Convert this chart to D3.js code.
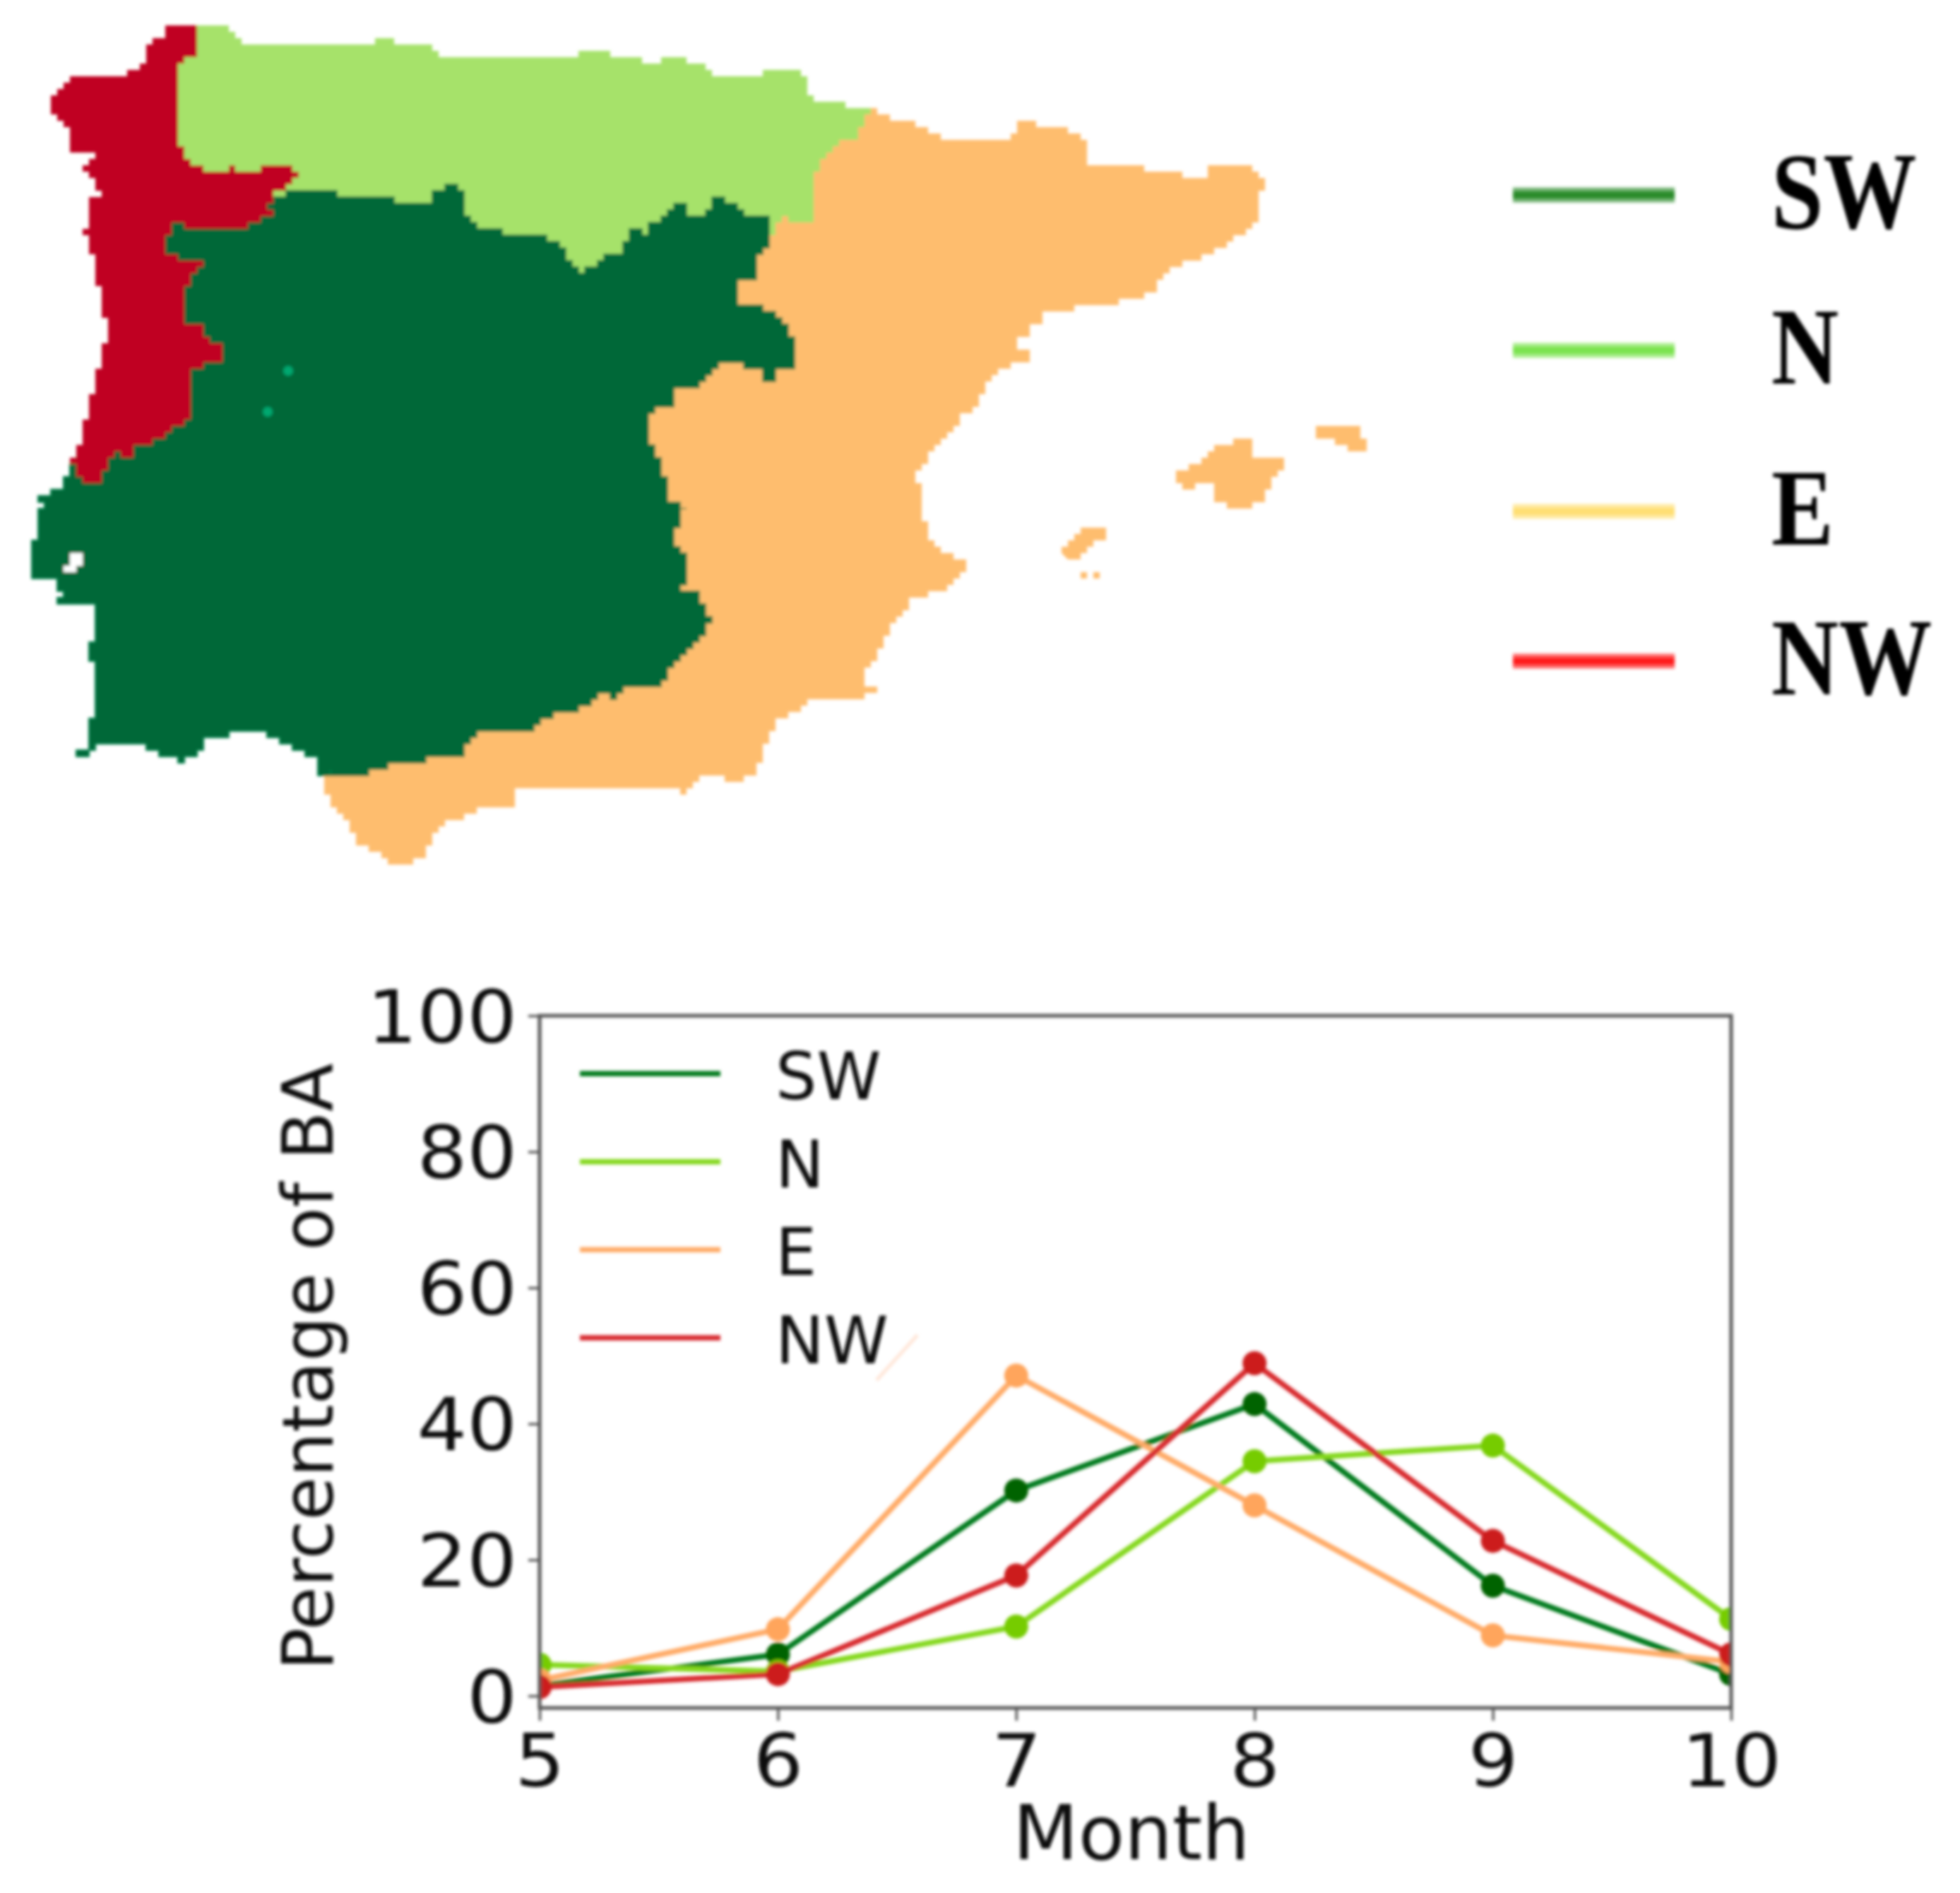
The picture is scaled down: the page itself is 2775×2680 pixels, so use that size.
<!DOCTYPE html>
<html>
<head>
<meta charset="utf-8">
<script src="https://cdn.jsdelivr.net/npm/d3@7"></script>
<style>
    html, body { margin: 0; padding: 0; background: #fff; }
    svg { display: block; }
</style>
</head>
<body>
<svg id="visualization" width="2775" height="2680"></svg>
<script>
// Chart data
let months = [5, 6, 7, 8, 9, 10];
let regions = ["SW", "N", "E", "NW"];
let valuesSW = [1.5, 6.1, 30.2, 42.9, 16.2, 3.2];
let valuesN = [4.6, 3.6, 10.2, 34.5, 36.8, 11.3];
let valuesE = [2.3, 9.8, 47.1, 28.0, 8.9, 5.0];
let valuesNW = [1.3, 3.2, 17.7, 48.9, 22.8, 6.1];
let yTicks = [0, 20, 40, 60, 80, 100];

// Map outlines in picture pixels.
// Regions overlap underneath each other, the drawing order hides that.
let outlineE = [[1237,157],[1265,173],[1293,171],[1328,196],[1433,196],[1440,171],[1496,180],[1535,198],[1542,230],[1616,230],[1622,242],[1665,240],[1682,255],[1707,255],[1714,234],[1759,230],[1777,245],[1794,253],[1794,270],[1777,272],[1784,318],[1756,337],[1721,360],[1672,376],[1644,395],[1630,418],[1580,429],[1517,437],[1479,448],[1461,471],[1440,483],[1440,494],[1461,502],[1458,515],[1426,519],[1405,536],[1388,567],[1363,594],[1328,632],[1317,650],[1300,677],[1302,723],[1315,763],[1337,787],[1365,790],[1365,810],[1337,837],[1293,847],[1267,883],[1253,910],[1240,937],[1225,953],[1227,972],[1250,973],[1245,983],[1207,988],[1150,988],[1143,1003],[1107,1020],[1090,1040],[1080,1080],[1057,1107],[1035,1112],[1030,1098],[996,1097],[975,1122],[947,1116],[733,1113],[726,1139],[673,1149],[628,1168],[596,1219],[561,1223],[512,1196],[488,1156],[459,1122],[463,1097],[600,1000],[880,700],[880,500],[1000,400],[1100,300],[1170,190]];
let outlineN = [[275,37],[322,37],[338,60],[523,60],[539,53],[555,60],[599,62],[619,78],[676,78],[682,85],[784,85],[848,69],[867,80],[906,87],[957,83],[995,92],[1005,104],[1068,104],[1103,100],[1142,106],[1145,138],[1195,150],[1237,157],[1226,169],[1219,192],[1181,207],[1163,234],[1149,261],[1156,314],[1110,309],[1086,350],[823,430],[600,400],[400,400],[300,300],[240,230],[240,90],[270,60]];
let outlineSW = [[415,268],[478,275],[536,281],[603,290],[612,272],[638,259],[660,286],[657,304],[676,321],[721,333],[788,339],[804,370],[823,388],[835,375],[880,353],[893,321],[906,335],[921,318],[942,299],[963,288],[974,303],[991,303],[1012,280],[1044,288],[1051,309],[1086,310],[1089,318],[1093,349],[1068,364],[1068,395],[1047,402],[1044,429],[1075,433],[1110,456],[1124,483],[1128,519],[1103,523],[1100,544],[1082,544],[1079,523],[1054,515],[1023,515],[1012,529],[995,532],[995,544],[960,550],[953,576],[925,582],[914,605],[928,651],[940,672],[943,709],[968,722],[954,764],[975,810],[965,836],[982,840],[1007,882],[989,911],[954,937],[936,975],[898,972],[870,987],[856,981],[814,1010],[768,1015],[754,1038],[701,1031],[666,1046],[656,1069],[596,1078],[533,1088],[512,1101],[470,1092],[459,1101],[449,1071],[421,1059],[382,1038],[337,1038],[298,1046],[277,1069],[260,1078],[239,1067],[210,1057],[144,1055],[116,1071],[105,1071],[123,1052],[126,1017],[137,1008],[137,932],[123,930],[130,913],[137,907],[137,857],[77,857],[88,840],[81,823],[42,815],[42,802],[53,739],[60,709],[56,701],[84,693],[88,680],[102,655],[180,600],[200,400],[215,345],[240,300],[300,290],[370,285]];
let outlineNW = [[237,37],[284,37],[281,62],[274,85],[256,89],[255,134],[252,179],[258,228],[297,243],[325,237],[363,246],[370,230],[405,230],[420,254],[408,268],[389,277],[376,290],[386,308],[357,312],[344,328],[300,324],[252,317],[230,350],[249,368],[281,364],[284,379],[274,395],[258,417],[261,455],[287,467],[290,480],[319,487],[312,509],[274,529],[274,598],[255,607],[223,623],[191,638],[185,652],[172,638],[156,650],[143,688],[124,688],[108,656],[102,647],[118,616],[124,571],[137,522],[150,482],[153,455],[143,424],[134,366],[121,321],[124,288],[140,268],[131,250],[121,232],[137,214],[102,214],[102,187],[89,170],[67,158],[70,138],[86,120],[105,105],[172,105],[201,91],[207,60],[236,51]];
let mallorca = [[1657,675],[1673,663],[1707,643],[1727,630],[1753,620],[1773,628],[1772,647],[1787,652],[1817,647],[1817,670],[1800,683],[1787,707],[1763,722],[1723,710],[1717,680],[1697,683],[1687,697],[1677,683]];
let menorca = [[1860,605],[1917,603],[1937,625],[1935,640],[1913,638],[1893,623],[1867,623]];
let ibiza = [[1503,787],[1505,773],[1523,753],[1540,743],[1567,750],[1567,763],[1543,777],[1533,790]];
let formentera = [[1530,807],[1542,803],[1543,823],[1530,823]];
let formenteraEast = [[1552,810],[1562,812],[1560,823],[1550,822]];
let tagusEstuary = [[102,779],[114,779],[114,802],[98,821],[94,800]];
let specks = [[408,525],[379,583]];
let legendSmear = [[1241,1954],[1299,1890]];

// Colours
let mapColors = { SW: "#006837", N: "#a6e26b", E: "#febd6e", NW: "#c00024" };
let keyColors = { SW: "#2c8c2c", N: "#7be34f", E: "#ffdf73", NW: "#ff1a1a" };
let lineColors = { SW: "#007a1a", N: "#84d81f", E: "#ffab68", NW: "#d8292e" };
let markerColors = { SW: "#006400", N: "#76cc00", E: "#ffa55c", NW: "#cc1a1f" };

// Layout variables
let plot = { left: 764, right: 2451, top: 1438, bottom: 2418 };
let axisColor = "#555555";
let tickStretch = 1.08;
let cell = 9;   // size of a map raster cell
let svg = d3.select("#visualization");

let defs = svg.append("defs");
defs.append("filter").attr("id", "soft")
    .append("feGaussianBlur").attr("stdDeviation", 2);
let clip = defs.append("clipPath").attr("id", "plot-clip");

// Map
let mapX = d3.scaleIdentity();
let mapY = d3.scaleIdentity();
let stepLine = d3.line().x(d => mapX(d[0])).y(d => mapY(d[1])).curve(d3.curveStepAfter);

// Break the outline into raster sized pieces so it comes out blocky like the source grid
function pixelate(outline) {
    let out = [];
    outline.forEach((p, i) => {
        let q = outline[(i + 1) % outline.length];
        let n = Math.max(1, Math.round(Math.hypot(q[0] - p[0], q[1] - p[1]) / cell));
        for (let k = 0; k < n; k++) {
            out.push([
                Math.round((p[0] + (q[0] - p[0]) * k / n) / cell) * cell,
                Math.round((p[1] + (q[1] - p[1]) * k / n) / cell) * cell
            ]);
        }
    });
    return out;
}

let mapGroup = svg.append("g").attr("class", "map").attr("filter", "url(#soft)");
let mapShapes = [
    [outlineE, mapColors.E], [mallorca, mapColors.E], [menorca, mapColors.E],
    [ibiza, mapColors.E], [formentera, mapColors.E], [formenteraEast, mapColors.E],
    [outlineN, mapColors.N], [outlineSW, mapColors.SW, "#007f4a"], [outlineNW, mapColors.NW],
    [tagusEstuary, "#ffffff"]
];
mapGroup.selectAll("path")
    .data(mapShapes)
    .enter().append("path")
    .attr("d", d => stepLine(pixelate(d[0])) + "Z")
    .attr("fill", d => d[1])
    .attr("stroke", d => d[2] || "none")
    .attr("stroke-width", 2);

mapGroup.selectAll("circle")
    .data(specks)
    .enter().append("circle")
    .attr("cx", d => mapX(d[0]))
    .attr("cy", d => mapY(d[1]))
    .attr("r", 7)
    .attr("fill", "#00a870");

// Key next to the map
let keyY = d3.scaleOrdinal().domain(regions).range([276, 496, 724, 936]);
let keyGroup = svg.append("g").attr("class", "map-key").attr("filter", "url(#soft)");
regions.forEach(r => {
    keyGroup.append("line")
        .attr("x1", 2142).attr("x2", 2371)
        .attr("y1", keyY(r)).attr("y2", keyY(r))
        .attr("stroke", keyColors[r])
        .attr("stroke-opacity", 0.65)
        .attr("stroke-width", 21);
    keyGroup.append("line")
        .attr("x1", 2142).attr("x2", 2371)
        .attr("y1", keyY(r)).attr("y2", keyY(r))
        .attr("stroke", keyColors[r])
        .attr("stroke-width", 10);
    keyGroup.append("text")
        .attr("transform", "translate(2508," + (keyY(r) + 47) + ") scale(1,1.17)")
        .attr("font-family", "Liberation Serif")
        .attr("font-weight", "bold")
        .attr("font-size", 132)
        .attr("fill", "#000")
        .text(r);
});

// Line chart
let x = d3.scaleLinear().domain([5, 10]).range([plot.left, plot.right]);
let y = d3.scaleLinear().domain([-1.77, 100]).range([plot.bottom, plot.top]);

clip.append("rect")
    .attr("x", plot.left).attr("y", plot.top)
    .attr("width", plot.right - plot.left)
    .attr("height", plot.bottom - plot.top);

let chart = svg.append("g").attr("class", "chart").attr("filter", "url(#soft)");
let lineGen = d3.line().x((d, i) => x(months[i])).y(d => y(d));
let series = [valuesSW, valuesN, valuesE, valuesNW];

let marks = chart.append("g").attr("clip-path", "url(#plot-clip)");
series.forEach((values, s) => {
    let r = regions[s];
    marks.append("path")
        .datum(values)
        .attr("d", lineGen)
        .attr("fill", "none")
        .attr("stroke", lineColors[r])
        .attr("stroke-width", 8);
    marks.selectAll("circle.m" + r)
        .data(values)
        .enter().append("circle")
        .attr("class", "m" + r)
        .attr("cx", (d, i) => x(months[i]))
        .attr("cy", d => y(d))
        .attr("r", 17)
        .attr("fill", markerColors[r]);
});

// Axes
let xAxis = d3.axisBottom(x).tickValues(months).tickFormat(d3.format("d")).tickSize(18).tickPadding(20);
let yAxis = d3.axisLeft(y).tickValues(yTicks).tickSize(16).tickPadding(16);

let xG = chart.append("g").attr("transform", "translate(0," + plot.bottom + ")").call(xAxis);
let yG = chart.append("g").attr("transform", "translate(" + plot.left + ",0)").call(yAxis);
[xG, yG].forEach(g => {
    g.select(".domain").remove();
    g.selectAll("line").attr("stroke", axisColor).attr("stroke-width", 3.5);
    g.selectAll("text")
        .attr("font-family", "DejaVu Sans")
        .attr("font-size", 103)
        .attr("fill", "#111")
        .attr("transform", "scale(" + tickStretch + ",1)");
});
yG.selectAll("text").attr("x", -32 / tickStretch).attr("dy", "0.36em");

// Frame
chart.append("rect")
    .attr("x", plot.left).attr("y", plot.top)
    .attr("width", plot.right - plot.left)
    .attr("height", plot.bottom - plot.top)
    .attr("fill", "none")
    .attr("stroke", axisColor)
    .attr("stroke-width", 5);

// Axis titles
chart.append("text")
    .attr("x", 1602).attr("y", 2632)
    .attr("text-anchor", "middle")
    .attr("font-family", "DejaVu Sans")
    .attr("font-size", 107)
    .attr("fill", "#111")
    .text("Month");

chart.append("text")
    .attr("transform", "translate(471,1935) rotate(-90)")
    .attr("text-anchor", "middle")
    .attr("font-family", "DejaVu Sans")
    .attr("font-size", 100)
    .attr("fill", "#111")
    .text("Percentage of BA");

// Legend inside the chart
let legendY = d3.scalePoint().domain(regions).range([1520, 1894]);
regions.forEach(r => {
    chart.append("line")
        .attr("x1", 821).attr("x2", 1020)
        .attr("y1", legendY(r)).attr("y2", legendY(r))
        .attr("stroke", lineColors[r])
        .attr("stroke-width", 7.5);
    chart.append("text")
        .attr("x", 1098).attr("y", legendY(r) + 36)
        .attr("font-family", "DejaVu Sans")
        .attr("font-size", 92)
        .attr("fill", "#111")
        .text(r);
});

// Pale scratch next to the legend in the source picture
chart.append("path")
    .attr("d", d3.line()(legendSmear))
    .attr("stroke", "#ffe6d8")
    .attr("stroke-width", 5);
</script>
</body>
</html>
